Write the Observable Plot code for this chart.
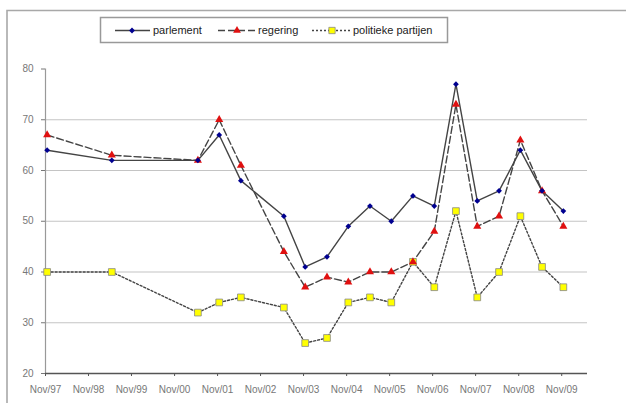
<!DOCTYPE html>
<html>
<head>
<meta charset="utf-8">
<script src="https://cdn.jsdelivr.net/npm/d3@7"></script>
<script src="https://cdn.jsdelivr.net/npm/@observablehq/plot@0.6"></script>
<style>
  html, body { margin: 0; padding: 0; background: #fff; }
  #chart { position: relative; width: 626px; height: 403px; }
</style>
</head>
<body>
<div id="chart"></div>
<script>
const dates = ["1997-11-15","1999-05-18","2001-05-18","2001-11-15","2002-05-18","2003-05-18","2003-11-15","2004-05-18","2004-11-15","2005-05-18","2005-11-15","2006-05-18","2006-11-15","2007-05-18","2007-11-15","2008-05-18","2008-11-15","2009-05-18","2009-11-15"];
const parlement = [64, 62, 62, 67, 58, 51, 41, 43, 49, 53, 50, 55, 53, 77, 54, 56, 64, 56, 52];
const regering  = [67, 63, 62, 70, 61, 44, 37, 39, 38, 40, 40, 42, 48, 73, 49, 51, 66, 56, 49];
const partijen  = [40, 40, 32, 34, 35, 33, 26, 27, 34, 35, 34, 42, 37, 52, 35, 40, 51, 41, 37];
const seriesNames = ["parlement", "regering", "politieke partijen"];
const yTicks = [20, 30, 40, 50, 60, 70, 80];
const gridValues = [30, 40, 50, 60, 70];
const xTickYears = [1997, 1998, 1999, 2000, 2001, 2002, 2003, 2004, 2005, 2006, 2007, 2008, 2009];

const parse = d3.utcParse("%Y-%m-%d");
const mk = (vals, name) => dates.map((d, i) => ({date: parse(d), value: vals[i], series: name}));
const dP = mk(parlement, seriesNames[0]);
const dR = mk(regering, seriesNames[1]);
const dY = mk(partijen, seriesNames[2]);
const xTicks = xTickYears.map(y => new Date(Date.UTC(y, 10, 1)));
const xMin = new Date(Date.UTC(1997, 10, 1));
const xMax = new Date(Date.UTC(2010, 5, 8));

const lineCol = "#444";
const font = "Liberation Sans, Arial, sans-serif";

const plot = Plot.plot({
  width: 626,
  height: 403,
  marginLeft: 45,
  marginRight: 39,
  marginTop: 68.5,
  marginBottom: 30,
  style: {fontFamily: font, background: "#fff", overflow: "visible"},
  x: {type: "utc", domain: [xMin, xMax]},
  y: {domain: [20, 80]},
  marks: [
    Plot.ruleY(gridValues, {stroke: "#c4c4c4", strokeWidth: 1.2}),
    Plot.ruleX([xMin], {y1: 20, y2: 80, stroke: "#999", strokeWidth: 1.2}),
    Plot.axisY({ticks: yTicks, tickSize: 4, tickPadding: 8, stroke: "#777", fill: "#777", fontSize: 10, label: null}),
    Plot.ruleY([20], {stroke: "#555", strokeWidth: 1.5}),
    Plot.axisX({ticks: xTicks, tickSize: 3, tickPadding: 9, stroke: "#555", fill: "#777", fontSize: 10, tickFormat: d3.utcFormat("%b/%y"), label: null}),
    Plot.line(dY, {x: "date", y: "value", stroke: lineCol, strokeWidth: 1.4, strokeDasharray: "2,2"}),
    Plot.line(dR, {x: "date", y: "value", stroke: lineCol, strokeWidth: 1.4, strokeDasharray: "7,3"}),
    Plot.line(dP, {x: "date", y: "value", stroke: lineCol, strokeWidth: 1.4}),
    Plot.dot(dY, {x: "date", y: "value", symbol: "square", r: 3.8, fill: "#ffff00", stroke: "#888", strokeWidth: 0.8}),
    Plot.dot(dR, {x: "date", y: "value", symbol: "triangle", r: 3, fill: "#e01010", stroke: "none"}),
    Plot.dot(dP, {x: "date", y: "value", symbol: "diamond2", r: 2.6, fill: "#000090", stroke: "none"})
  ]
});
document.getElementById("chart").appendChild(plot);

// frame and legend
const svg = d3.select(plot);
svg.append("path").attr("d", "M7,403V10.5H626").attr("fill", "none").attr("stroke", "#a8a8a8").attr("stroke-width", 1.6);
const lg = svg.append("g").attr("text-anchor", "start");
lg.append("rect").attr("x", 100.5).attr("y", 17.5).attr("width", 347).attr("height", 25)
  .attr("fill", "#fff").attr("stroke", "#999").attr("stroke-width", 1.5);
const ly = 30.5;
const items = [
  {x1: 115, x2: 150, mx: 132, tx: 153, dash: null, sym: d3.symbolDiamond2, size: 22, fill: "#000090", stroke: "none"},
  {x1: 218, x2: 256, mx: 237, tx: 258, dash: "7,3", sym: d3.symbolTriangle, size: 26, fill: "#e01010", stroke: "none"},
  {x1: 312, x2: 350, mx: 332, tx: 353, dash: "2,2", sym: d3.symbolSquare, size: 40, fill: "#ffff00", stroke: "#888"}
];
items.forEach((it, i) => {
  lg.append("line").attr("x1", it.x1).attr("x2", it.x2).attr("y1", ly).attr("y2", ly)
    .attr("stroke", lineCol).attr("stroke-width", 1.4).attr("stroke-dasharray", it.dash);
  lg.append("path").attr("d", d3.symbol(it.sym, it.size)()).attr("transform", `translate(${it.mx},${ly})`)
    .attr("fill", it.fill).attr("stroke", it.stroke).attr("stroke-width", 0.8);
  lg.append("text").attr("x", it.tx).attr("y", ly).attr("dy", "0.35em").attr("text-anchor", "start")
    .attr("font-family", font).attr("font-size", 11).attr("fill", "#222").text(seriesNames[i]);
});
</script>
</body>
</html>
